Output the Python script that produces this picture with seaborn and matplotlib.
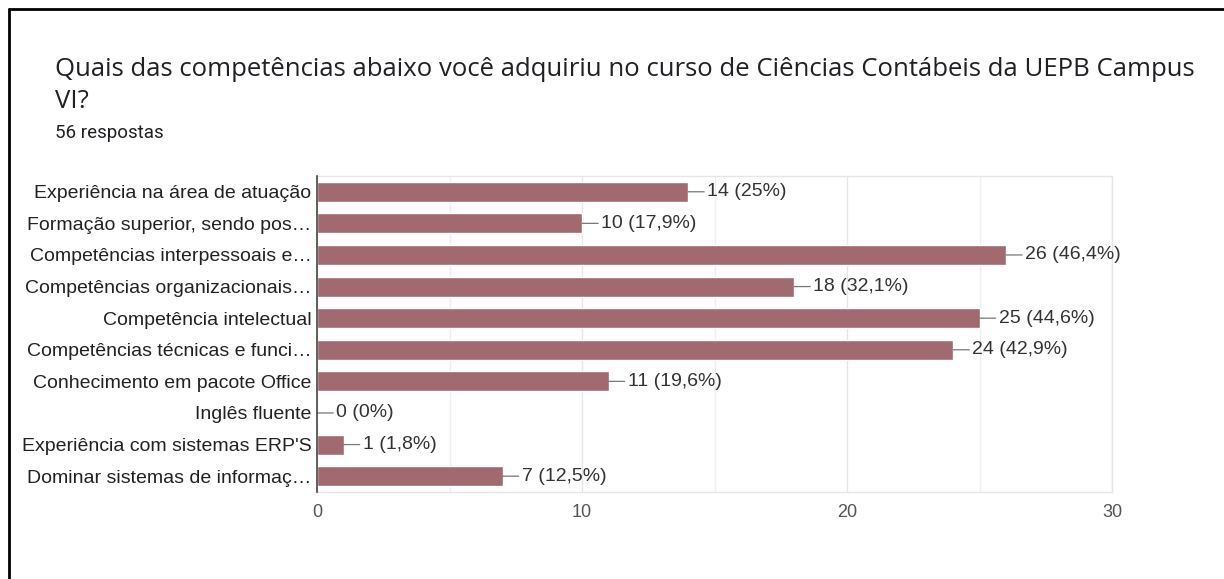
import matplotlib
matplotlib.use("Agg")
import matplotlib.pyplot as plt
from matplotlib.lines import Line2D
from matplotlib.ticker import MultipleLocator
import seaborn as sns
import pandas as pd

# data
categories = [
    "Experiência na área de atuação",
    "Formação superior, sendo pos…",
    "Competências interpessoais e…",
    "Competências organizacionais…",
    "Competência intelectual",
    "Competências técnicas e funci…",
    "Conhecimento em pacote Office",
    "Inglês fluente",
    "Experiência com sistemas ERP'S",
    "Dominar sistemas de informaç…",
]
counts = [14, 10, 26, 18, 25, 24, 11, 0, 1, 7]
percents = ["25%", "17,9%", "46,4%", "32,1%", "44,6%", "42,9%", "19,6%", "0%", "1,8%", "12,5%"]
x_ticks = [0, 10, 20, 30]

title_lines = ["Quais das competências abaixo você adquiriu no curso de Ciências Contábeis da UEPB Campus",
               "VI?"]
subtitle = "56 respostas"

sns.set_style("white")
plt.rcParams['font.family'] = ['Liberation Sans', 'DejaVu Sans']

df = pd.DataFrame({"categoria": categories, "respostas": counts})

fig = plt.figure(figsize=(12.24, 5.79), dpi=100)
ax = fig.add_axes([0.259, 0.1503, 0.6495, 0.5458])

sns.barplot(data=df, y="categoria", x="respostas", orient="h", color="#a06a6f",
            saturation=1, width=0.63, ax=ax, zorder=3)

ax.set_xlim(0, 30)
ax.set_ylim(9.5, -0.5)
ax.set_xlabel("")
ax.set_ylabel("")
ax.set_xticks(x_ticks)
ax.xaxis.set_minor_locator(MultipleLocator(5))
ax.grid(axis="x", which="major", color="#e6e6e6", linewidth=1, zorder=0)
ax.grid(axis="x", which="minor", color="#efefef", linewidth=1, zorder=0)
ax.set_axisbelow(True)
ax.tick_params(axis="x", which="both", length=0, labelsize=13, labelcolor="#555555", pad=9)
ax.tick_params(axis="y", length=0, labelsize=14, labelcolor="#222222", pad=4)

for side in ["top", "right", "bottom"]:
    ax.spines[side].set_color("#e6e6e6")
    ax.spines[side].set_linewidth(1)
ax.spines["left"].set_color("#444444")
ax.spines["left"].set_linewidth(1.2)
ax.spines["left"].set_zorder(5)

# value labels with connector line
for i, (c, p) in enumerate(zip(counts, percents)):
    ax.annotate(f"{c} ({p})", xy=(c, i), xytext=(14, 0), textcoords="offset points",
                va="center", ha="left", fontsize=14, color="#333333",
                arrowprops=dict(arrowstyle="-", color="#777777", lw=0.9,
                                shrinkA=0, shrinkB=0, relpos=(0, 0.5)))

# titles
fig.text(55 / 1224, 1 - 69 / 579, title_lines[0], fontsize=18.5, color="#202124",
         family=["Open Sans", "DejaVu Sans"], va="center", ha="left")
fig.text(55 / 1224, 1 - 102 / 579, title_lines[1], fontsize=18.5, color="#202124",
         family=["Open Sans", "DejaVu Sans"], va="center", ha="left")
fig.text(55 / 1224, 1 - 133 / 579, subtitle, fontsize=13.5, color="#202124",
         family=["Roboto", "DejaVu Sans"], va="center", ha="left")

# frame of the screenshot (top and left edges)
fig.add_artist(Line2D([9 / 1224, 1.0], [1 - 9 / 579, 1 - 9 / 579], color="black", lw=2))
fig.add_artist(Line2D([9 / 1224, 9 / 1224], [0.0, 1 - 9 / 579], color="black", lw=2))

fig.savefig("out.png", dpi=100)
